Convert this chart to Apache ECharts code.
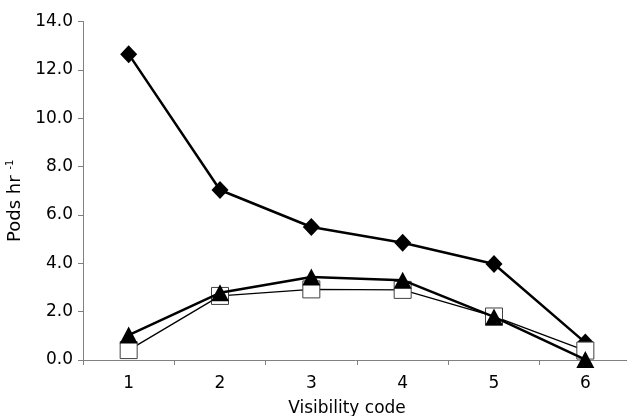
<!DOCTYPE html>
<html>
<head>
<meta charset="utf-8">
<script src="https://cdn.jsdelivr.net/npm/echarts@6/dist/echarts.min.js"></script>
<style>
html,body{margin:0;padding:0;background:#fff;}
#chart{width:627px;height:416px;}
</style>
</head>
<body>
<div id="chart"></div>
<script>
var categories = ['1', '2', '3', '4', '5', '6'];
var diamondValues = [12.65, 7.03, 5.5, 4.85, 3.97, 0.72];
var squareValues = [0.41, 2.65, 2.92, 2.9, 1.8, 0.39];
var triangleValues = [1.03, 2.78, 3.43, 3.3, 1.78, 0.02];
var yTicks = [0, 2, 4, 6, 8, 10, 12, 14];

var FONT = 'DejaVu Sans, Liberation Sans, sans-serif';
var chart = echarts.init(document.getElementById('chart'), null, {renderer: 'canvas'});
chart.setOption({
  backgroundColor: '#ffffff',
  animation: false,
  grid: {left: 83, top: 21.5, bottom: 56, width: 548, containLabel: false, outerBoundsMode: 'none'},
  xAxis: {
    type: 'category',
    data: categories,
    boundaryGap: true,
    name: 'Visibility code',
    nameLocation: 'middle',
    nameGap: 40,
    nameTextStyle: {fontFamily: FONT, fontSize: 17, color: '#000', padding: [0, 20, 0, 0]},
    axisLine: {lineStyle: {color: '#808080', width: 1}},
    axisTick: {show: true, length: 5, lineStyle: {color: '#808080'}},
    axisLabel: {fontFamily: FONT, fontSize: 17, color: '#000', margin: 15},
    splitLine: {show: false}
  },
  yAxis: {
    type: 'value',
    min: yTicks[0],
    max: yTicks[yTicks.length - 1],
    interval: 2,
    name: '{a|Pods hr }{b|-1}',
    nameLocation: 'middle',
    nameRotate: 90,
    nameGap: 48,
    nameTextStyle: {
      color: '#000',
      padding: [0, 20, 0, 0],
      rich: {
        a: {fontFamily: FONT, fontSize: 18, color: '#000', lineHeight: 20},
        b: {fontFamily: FONT, fontSize: 10, color: '#000', verticalAlign: 'top', lineHeight: 20}
      }
    },
    axisLine: {show: true, lineStyle: {color: '#808080', width: 1}},
    axisTick: {show: true, length: 5, lineStyle: {color: '#808080'}},
    axisLabel: {fontFamily: FONT, fontSize: 17, color: '#000', margin: 10,
      formatter: function (v) { return v.toFixed(1); }},
    splitLine: {show: false}
  },
  series: [
    {
      type: 'line',
      data: diamondValues,
      symbol: 'diamond',
      symbolSize: [17, 18],
      lineStyle: {color: '#000', width: 2.5},
      itemStyle: {color: '#000', borderColor: '#000', borderWidth: 0},
      z: 2
    },
    {
      type: 'line',
      data: squareValues,
      symbol: 'rect',
      symbolSize: [17, 17],
      lineStyle: {color: '#000', width: 1.3},
      itemStyle: {color: '#fff', borderColor: '#404040', borderWidth: 1},
      z: 3
    },
    {
      type: 'line',
      data: triangleValues,
      symbol: 'triangle',
      symbolSize: [18, 17],
      lineStyle: {color: '#000', width: 2.5},
      itemStyle: {color: '#000', borderColor: '#000', borderWidth: 0},
      z: 4
    }
  ]
});
</script>
</body>
</html>
